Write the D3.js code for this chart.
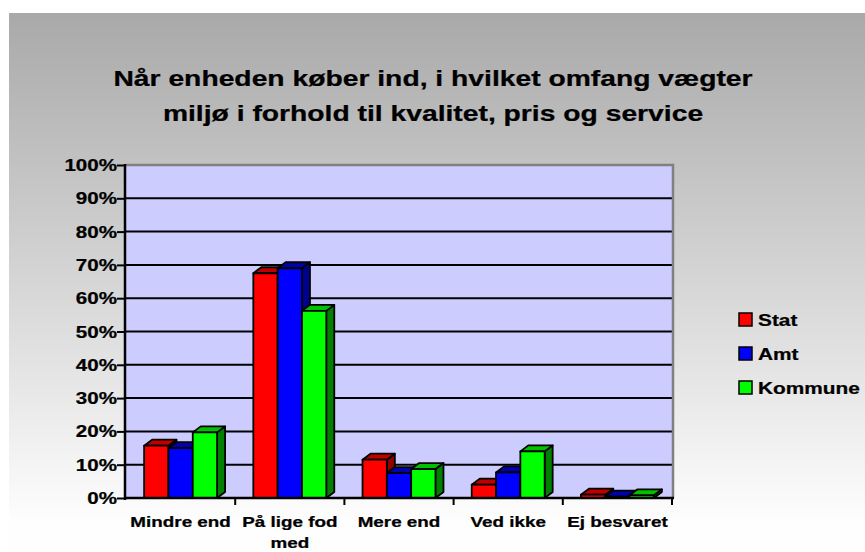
<!DOCTYPE html>
<html>
<head>
<meta charset="utf-8">
<script src="https://cdn.jsdelivr.net/npm/d3@7"></script>
<style>
  body { margin: 0; padding: 0; background: #fff; }
  svg text { font-family: "Liberation Sans", Arial, sans-serif; font-weight: bold; fill: #000; stroke: #000; stroke-width: 0.25px; }
</style>
</head>
<body>
<div id="chart"></div>
<script>
// data (front face tops)
var categories = ["Mindre end", "På lige fod med", "Mere end", "Ved ikke", "Ej besvaret"];
var catLines = [["Mindre end"], ["På lige fod", "med"], ["Mere end"], ["Ved ikke"], ["Ej besvaret"]];
var seriesNames = ["Stat", "Amt", "Kommune"];
var stat = [15.7, 67.5, 11.5, 4.0, 1.0];
var amt = [15.0, 69.0, 7.5, 7.7, 0.4];
var kommune = [19.7, 56.2, 8.7, 14.0, 0.8];
var yTicks = [0, 10, 20, 30, 40, 50, 60, 70, 80, 90, 100];
var titleLines = ["Når enheden køber ind, i hvilket omfang vægter", "miljø i forhold til kvalitet, pris og service"];

var seriesData = [stat, amt, kommune];
var fronts = ["#ff0000", "#0000ff", "#00ff00"],
    tops = ["#c00000", "#0000b0", "#00c000"],
    sides = ["#900000", "#000090", "#008000"];

var W = 865, H = 552, sx = 1.24;
var plot = { left: 126, right: 672, top: 164, bottom: 498 };
var dx = 8, dy = 6;

var svg = d3.select("#chart").append("svg")
    .attr("width", W)
    .attr("height", H);

var defs = svg.append("defs");
var grad = defs.append("linearGradient")
    .attr("id", "bg")
    .attr("x1", 0).attr("y1", 0).attr("x2", 0).attr("y2", 1);
grad.append("stop").attr("offset", "0%").attr("stop-color", "#a9a9a9");
grad.append("stop").attr("offset", "95%").attr("stop-color", "#fefefe");

svg.append("rect")
    .attr("x", 9).attr("y", 13)
    .attr("width", W - 9).attr("height", H - 13)
    .attr("fill", "url(#bg)");

// helper: stretched text
function sText(g, x, y, str, size, anchor) {
    return g.append("g")
        .attr("transform", "translate(" + x + "," + y + ") scale(" + sx + ",1)")
        .append("text")
        .attr("text-anchor", anchor || "start")
        .style("font-size", size + "px")
        .text(str);
}

// title
titleLines.forEach(function (t, i) {
    sText(svg, 433, 86 + i * 35, t, 22.8, "middle");
});

var x0 = d3.scaleBand()
    .domain(categories)
    .range([plot.left, plot.right])
    .padding(0);

var bw = x0.bandwidth();
var x1 = d3.scaleBand()
    .domain(seriesNames)
    .range([bw * 0.166, bw * 0.834])
    .padding(0);

var y = d3.scaleLinear()
    .domain([0, 100])
    .range([plot.bottom, plot.top + 1]);

// back wall
svg.append("rect")
    .attr("x", plot.left).attr("y", plot.top)
    .attr("width", plot.right - plot.left)
    .attr("height", plot.bottom - plot.top)
    .attr("fill", "#ccccff");

// gridlines
svg.append("g").selectAll("line")
    .data(yTicks.filter(function (d) { return d > 0 && d < 100; }))
    .enter().append("line")
    .attr("x1", plot.left).attr("x2", plot.right)
    .attr("y1", function (d) { return y(d); })
    .attr("y2", function (d) { return y(d); })
    .attr("stroke", "#000")
    .attr("stroke-width", 2);

// wall top / right border
svg.append("path")
    .attr("d", "M" + plot.left + "," + (plot.top + 1) + "H" + (plot.right + 1) + "V" + plot.bottom)
    .attr("fill", "none")
    .attr("stroke", "#808080")
    .attr("stroke-width", 2.5);

// y axis
var yAxis = d3.axisLeft(y)
    .tickValues(yTicks)
    .tickSize(8)
    .tickFormat("");
var yg = svg.append("g")
    .attr("transform", "translate(" + (plot.left - 1) + ",0)")
    .call(yAxis);
yg.select(".domain").attr("stroke", "#000").attr("stroke-width", 2.5)
    .attr("d", "M0," + plot.top + "V" + (plot.bottom + 2));
yg.selectAll(".tick line").attr("stroke", "#000").attr("stroke-width", 2);

yTicks.forEach(function (t) {
    sText(svg, 117, y(t) + 6, t + "%", 16.6, "end");
});

// bars
var groups = svg.append("g").selectAll("g")
    .data(categories)
    .enter().append("g")
    .attr("transform", function (d) { return "translate(" + x0(d) + ",0)"; });

groups.each(function (cat, ci) {
    var g = d3.select(this);
    seriesNames.forEach(function (s, si) {
        var v = seriesData[si][ci];
        var xa = x1(s), xb = x1(s) + x1.bandwidth();
        var yt = y(v), yb = y(0);
        var bar = g.append("g")
            .attr("stroke", "#000")
            .attr("stroke-width", 1.8)
            .attr("stroke-linejoin", "round");
        bar.append("path")
            .attr("d", "M" + xb + "," + yt + "L" + (xb + dx) + "," + (yt - dy) +
                "L" + (xb + dx) + "," + (yb - dy) + "L" + xb + "," + yb + "Z")
            .attr("fill", sides[si]);
        bar.append("path")
            .attr("d", "M" + xa + "," + yt + "L" + (xa + dx) + "," + (yt - dy) +
                "L" + (xb + dx) + "," + (yt - dy) + "L" + xb + "," + yt + "Z")
            .attr("fill", tops[si]);
        bar.append("rect")
            .attr("x", xa).attr("y", yt)
            .attr("width", xb - xa)
            .attr("height", Math.max(0, yb - yt))
            .attr("fill", fronts[si]);
    });
});

// x axis
var xAxis = d3.axisBottom(x0)
    .tickSize(0)
    .tickFormat("");
var xg = svg.append("g")
    .attr("transform", "translate(0," + plot.bottom + ")")
    .call(xAxis);
xg.select(".domain").attr("stroke", "#000").attr("stroke-width", 2.5)
    .attr("d", "M" + (plot.left - 1) + ",0H" + (plot.right + 2));
xg.selectAll(".bound")
    .data(categories.slice(1).concat(["end"]))
    .enter().append("line")
    .attr("class", "bound")
    .attr("x1", function (d, i) { return plot.left + bw * (i + 1); })
    .attr("x2", function (d, i) { return plot.left + bw * (i + 1); })
    .attr("y1", 0).attr("y2", 7)
    .attr("stroke", "#000")
    .attr("stroke-width", 2);

categories.forEach(function (c, i) {
    catLines[i].forEach(function (ln, li) {
        sText(svg, x0(c) + bw / 2, 527 + li * 21, ln, 15.2, "middle");
    });
});

// legend
var legend = svg.append("g").selectAll("g")
    .data(seriesNames)
    .enter().append("g")
    .attr("transform", function (d, i) { return "translate(739," + (313 + i * 34) + ")"; });
legend.append("rect")
    .attr("width", 13).attr("height", 13)
    .attr("fill", function (d, i) { return fronts[i]; })
    .attr("stroke", "#000")
    .attr("stroke-width", 1.5);
legend.each(function (d) {
    sText(d3.select(this), 19, 13, d, 16.8, "start");
});
</script>
</body>
</html>
